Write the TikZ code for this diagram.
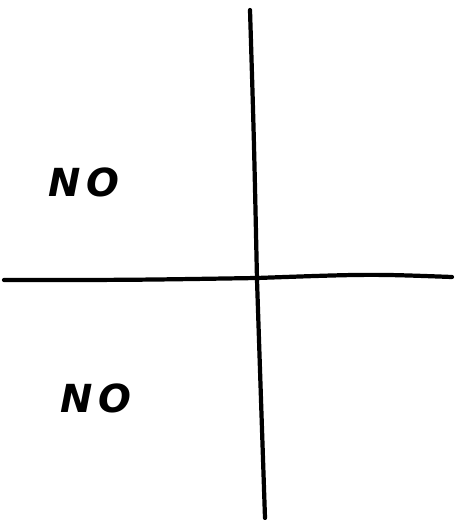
\documentclass[tikz,border=0pt]{standalone}
\usepackage{fontspec}
\setmainfont{DejaVu Sans}
\begin{document}
\begin{tikzpicture}[x=0.02cm,y=-0.02cm,
  axisline/.style={line width=2.4pt,line cap=round,black},
  label/.style={font=\fontsize{22}{24}\selectfont\itshape\bfseries,inner sep=0pt}]
\useasboundingbox (0,0) rectangle (455,520);
\coordinate (vt) at (250,10);
\coordinate (vm) at (257,280);
\coordinate (vb) at (265,518);
\coordinate (hl) at (4,280);
\coordinate (hm) at (257,278);
\coordinate (hr) at (452,277);
\draw[axisline] (vt) .. controls (254,140) .. (vm) .. controls (261,400) .. (vb);
\draw[axisline] (hl) .. controls (130,280) .. (hm) .. controls (370,274) .. (hr);
\node[label] (no1) at (84,182) {N\,O};
\node[label] (no2) at (96,398) {N\,O};
\end{tikzpicture}
\end{document}
